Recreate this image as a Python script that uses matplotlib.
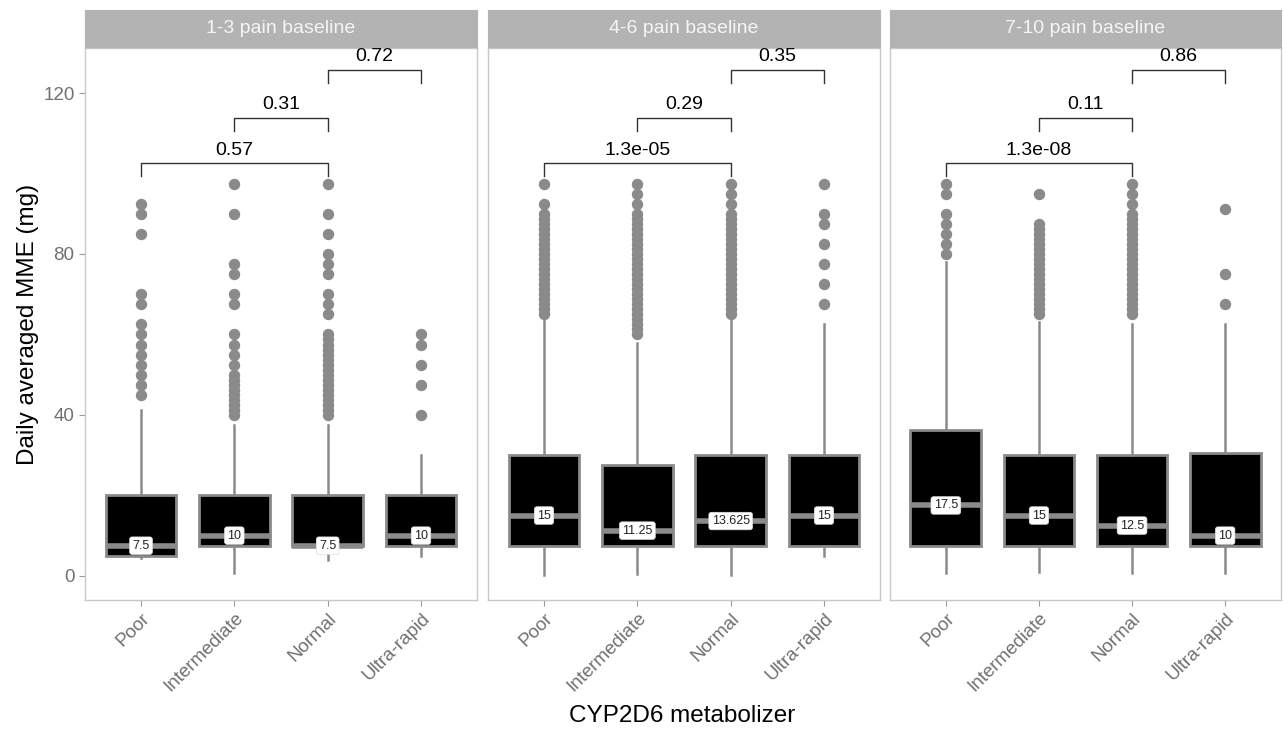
import matplotlib
matplotlib.use("Agg")
import matplotlib.pyplot as plt

plt.rcParams['font.family'] = ['Liberation Sans', 'DejaVu Sans']

panels = ["1-3 pain baseline", "4-6 pain baseline", "7-10 pain baseline"]
groups = ["Poor", "Intermediate", "Normal", "Ultra-rapid"]

q1 = [[5, 7.5, 7.5, 7.5], [7.5, 7.5, 7.5, 7.5], [7.5, 7.5, 7.5, 7.5]]
med = [[7.5, 10, 7.5, 10], [15, 11.25, 13.625, 15], [17.5, 15, 12.5, 10]]
q3 = [[20, 20, 20, 20], [30, 27.5, 30, 30], [36.25, 30, 30, 30.5]]
wlo = [[4.5, 0.75, 4, 5], [0.25, 0.5, 0.25, 5], [0.75, 1, 0.75, 0.75]]
whi = [[41.25, 37.5, 37.5, 30], [64, 58, 64, 62.5], [78, 63, 62.5, 62.5]]
med_labels = [["7.5", "10", "7.5", "10"], ["15", "11.25", "13.625", "15"],
              ["17.5", "15", "12.5", "10"]]

out_p1 = [
    [92.5, 90, 85, 70, 67.5, 62.5, 60, 57.5, 55, 52.5, 50, 47.5, 45],
    [97.5, 90, 77.5, 75, 70, 67.5, 60, 57.5, 55, 52.5, 50, 48.75, 47.5, 46.25, 45, 43.75, 42.5, 41.25, 40],
    [97.5, 90, 85, 80, 77.5, 75, 70, 67.5, 65, 60, 58.75, 57.5, 56.25, 55, 53.75, 52.5, 51.25, 50,
     48.75, 47.5, 46.25, 45, 43.75, 42.5, 41.25, 40],
    [60, 57.5, 52.5, 47.5, 40],
]
out_p2 = [
    [97.5, 92.5, 90, 88.75, 87.5, 86.25, 85, 83.75, 82.5, 81.25, 80, 78.75, 77.5, 76.25, 75, 73.75,
     72.5, 71.25, 70, 68.75, 67.5, 66.25, 65],
    [97.5, 95, 92.5, 90, 88.75, 87.5, 86.25, 85, 83.75, 82.5, 81.25, 80, 78.75, 77.5, 76.25, 75,
     73.75, 72.5, 71.25, 70, 68.75, 67.5, 66.25, 65, 63.75, 62.5, 61.25, 60],
    [97.5, 95, 92.5, 90, 88.75, 87.5, 86.25, 85, 83.75, 82.5, 81.25, 80, 78.75, 77.5, 76.25, 75,
     73.75, 72.5, 71.25, 70, 68.75, 67.5, 66.25, 65],
    [97.5, 90, 87.5, 82.5, 77.5, 72.5, 67.5],
]
out_p3 = [
    [97.5, 95, 90, 87.5, 85, 82.5, 80],
    [95, 87.5, 86.25, 85, 83.75, 82.5, 81.25, 80, 78.75, 77.5, 76.25, 75, 73.75, 72.5, 71.25, 70,
     68.75, 67.5, 66.25, 65],
    [97.5, 95, 92.5, 90, 88.75, 87.5, 86.25, 85, 83.75, 82.5, 81.25, 80, 78.75, 77.5, 76.25, 75,
     73.75, 72.5, 71.25, 70, 68.75, 67.5, 66.25, 65],
    [91.25, 75, 67.5],
]
outliers = [out_p1, out_p2, out_p3]

# comparisons: (group a, group b), bracket height, label
comp_pairs = [(1, 3), (2, 3), (3, 4)]
comp_y = [102.5, 113.8, 125.7]
pvals = [["0.57", "0.31", "0.72"], ["1.3e-05", "0.29", "0.35"], ["1.3e-08", "0.11", "0.86"]]

W, H = 1283, 730
fig = plt.figure(figsize=(W / 100, H / 100), dpi=100)

panel_x = [(85, 477), (488, 880), (890, 1281)]
top_px, bot_px = 48, 600
strip_top = 10

grey = "#8a8a8a"
border = "#c8c8c8"
tick_col = "#707070"

for p in range(3):
    x0, x1 = panel_x[p]
    ax = fig.add_axes([x0 / W, 1 - bot_px / H, (x1 - x0) / W, (bot_px - top_px) / H])
    stats = []
    for g in range(4):
        stats.append(dict(q1=q1[p][g], med=med[p][g], q3=q3[p][g],
                          whislo=wlo[p][g], whishi=whi[p][g], fliers=outliers[p][g]))
    ax.bxp(stats, positions=[1, 2, 3, 4], widths=0.76, patch_artist=True, showcaps=False,
           boxprops=dict(facecolor="black", edgecolor=grey, linewidth=2.0),
           medianprops=dict(color=grey, linewidth=4, solid_capstyle="butt"),
           whiskerprops=dict(color=grey, linewidth=1.8),
           flierprops=dict(marker="o", markerfacecolor=grey, markeredgecolor=grey, markersize=7.2))
    for g in range(4):
        ax.text(g + 1, med[p][g], med_labels[p][g], ha="center", va="center", fontsize=9,
                color="#222222", zorder=10,
                bbox=dict(boxstyle="round,pad=0.22,rounding_size=0.2", fc="white", ec="#e0e0e0", lw=0.5))
    for (a, b), yv, lab in zip(comp_pairs, comp_y, pvals[p]):
        ax.plot([a, a, b, b], [yv - 3.2, yv, yv, yv - 3.2], color="#333333", lw=1.0)
        ax.text((a + b) / 2, yv + 1.2, lab, ha="center", va="bottom", fontsize=14, color="black")
    ax.set_xlim(0.4, 4.6)
    ax.set_ylim(-6, 131.2)
    ax.set_xticks([1, 2, 3, 4])
    ax.set_xticklabels(groups, rotation=45, ha="right", rotation_mode="anchor",
                       fontsize=13.5, color=tick_col)
    ax.set_yticks([0, 40, 80, 120])
    ax.tick_params(axis="both", color="#9a9a9a", width=0.8, length=4)
    ax.tick_params(axis="x", pad=3)
    if p == 0:
        ax.set_yticklabels(["0", "40", "80", "120"], fontsize=13.5, color=tick_col)
    else:
        ax.set_yticklabels([])
        ax.tick_params(axis="y", length=0)
    for s in ax.spines.values():
        s.set_color(border)
        s.set_linewidth(1.0)
    # strip
    sax = fig.add_axes([x0 / W, 1 - (top_px - 1) / H, (x1 - x0) / W, (top_px - 1 - strip_top) / H])
    sax.set_facecolor("#b3b3b3")
    sax.set_xticks([])
    sax.set_yticks([])
    for s in sax.spines.values():
        s.set_color("#b3b3b3")
    sax.text(0.5, 0.5, panels[p], ha="center", va="center", fontsize=14, color="#f5f5f5",
             transform=sax.transAxes)

fig.text(28 / W, 1 - 324 / H, "Daily averaged MME (mg)", rotation=90, ha="center", va="center",
         fontsize=17.5, color="black")
fig.text(682 / W, 1 - 716 / H, "CYP2D6 metabolizer", ha="center", va="center",
         fontsize=17.5, color="black")

fig.savefig("out.png", dpi=100, facecolor="white")
